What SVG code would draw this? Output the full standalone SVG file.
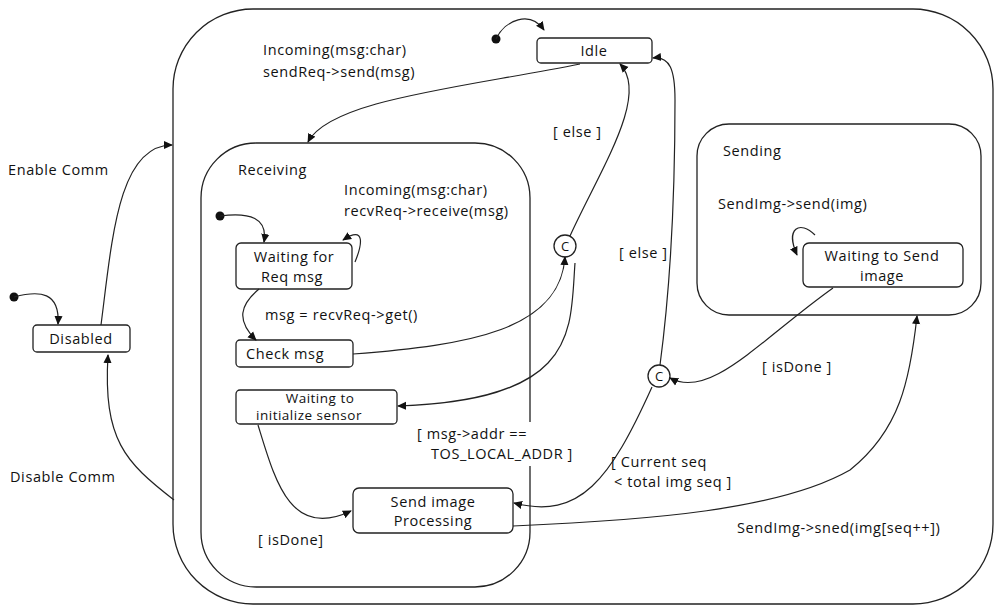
<svg xmlns="http://www.w3.org/2000/svg" width="996" height="608" viewBox="0 0 996 608">
<defs>
<marker id="ah" viewBox="0 0 10 10" refX="9" refY="5" markerWidth="9" markerHeight="9" markerUnits="userSpaceOnUse" orient="auto">
<path d="M0,0.5 L10,5 L0,9.5 z" fill="#111"/>
</marker>
<style>
.st{fill:#fff;stroke:#222;stroke-width:1.3}
.cont{fill:none;stroke:#222;stroke-width:1.3}
.c{fill:none;stroke:#222;stroke-width:1.2;marker-end:url(#ah)}
text{font-family:"Open Sans","Noto Sans","DejaVu Sans",sans-serif;font-size:14.5px;letter-spacing:0.6px;fill:#111}
.m{text-anchor:middle}
.sm{font-size:13.5px;letter-spacing:0.5px}
</style>
</defs>
<rect width="996" height="608" fill="#fff"/>
<g id="outer"><rect class="cont" x="173" y="9" width="820" height="595" rx="80" ry="80"/></g>
<g id="receiving"><rect class="cont" x="201" y="143" width="329" height="444" rx="55" ry="55"/><text x="238" y="175">Receiving</text></g>
<g id="sending"><rect class="cont" x="697" y="124" width="284" height="191" rx="32" ry="32"/><text x="723" y="156">Sending</text></g>

<g id="idle"><rect class="st" x="537" y="38" width="115" height="25" rx="4"/><text class="m" x="594" y="56">Idle</text></g>
<g id="disabled"><rect class="st" x="33" y="325" width="97" height="27" rx="4"/><text class="m" x="81" y="344">Disabled</text></g>
<g id="waitreq"><rect class="st" x="236" y="243" width="116" height="46" rx="5"/><text class="m" x="294" y="262">Waiting for</text><text class="m" x="292" y="282">Req msg</text></g>
<g id="checkmsg"><rect class="st" x="236" y="340" width="117" height="27" rx="4"/><text x="246" y="359">Check msg</text></g>
<g id="waitinit"><rect class="st" x="236" y="390" width="161" height="34" rx="4"/><text class="m sm" x="320" y="403">Waiting to</text><text class="m sm" x="309" y="420">initialize sensor</text></g>
<g id="sendproc"><rect class="st" x="353" y="488" width="160" height="45" rx="6"/><text class="m" x="433" y="507">Send image</text><text class="m" x="433" y="526">Processing</text></g>
<g id="waitsend"><rect class="st" x="803" y="243" width="160" height="44" rx="6"/><text class="m" x="882" y="261">Waiting to Send</text><text class="m" x="882" y="281">image</text></g>
<g id="choice1"><circle class="st" cx="565" cy="246" r="11"/><text class="m" x="565" y="251" style="font-size:13px;letter-spacing:0">C</text></g>
<g id="choice2"><circle class="st" cx="659" cy="376" r="11"/><text class="m" x="659" y="381" style="font-size:13px;letter-spacing:0">C</text></g>
<g id="initials" fill="#111">
<circle cx="496" cy="39" r="4.5"/><circle cx="14" cy="297" r="4.5"/><circle cx="220" cy="216" r="4.5"/>
</g>

<g id="connectors">
<path class="c" d="M496,39 C505,20 530,10 544,30"/>
<path class="c" d="M14,297 C40,290 60,292 58,324"/>
<path class="c" d="M220,216 C250,212 268,218 264,242"/>
<path class="c" d="M580,64 C460,88 330,100 308,142"/>
<path class="c" d="M101,325 C112,240 118,145 172,145"/>
<path class="c" d="M174,500 C125,462 103,440 108,355"/>
<path class="c" d="M355,262 C362,245 366,225 343,240"/>
<path class="c" d="M259,289 C240,305 236,320 256,340"/>
<path class="c" d="M353,354 C470,345 560,330 565,257"/>
<path class="c" d="M575,263 C570,330 580,400 398,406"/>
<path class="c" d="M570,236 C600,170 650,95 620,64"/>
<path class="c" d="M660,365 C670,290 675,200 675,100 C675,70 670,56 653,58"/>
<path class="c" d="M833,288 C760,340 710,400 670,378"/>
<path class="c" d="M652,387 C610,480 580,520 514,503"/>
<path class="c" d="M513,526 C650,520 780,510 850,470 C900,430 910,380 917,316"/>
<path class="c" d="M258,425 C275,480 290,540 351,511"/>
<path class="c" d="M815,235 C800,220 785,228 797,255"/>
</g>

<g id="labels">
<text x="263" y="55">Incoming(msg:char)</text>
<text x="263" y="77">sendReq-&gt;send(msg)</text>
<text x="8" y="175">Enable Comm</text>
<text x="10" y="482">Disable Comm</text>
<text x="344" y="195">Incoming(msg:char)</text>
<text x="344" y="216">recvReq-&gt;receive(msg)</text>
<text x="265" y="320">msg = recvReq-&gt;get()</text>
<text x="553" y="137">[ else ]</text>
<text x="619" y="258">[ else ]</text>
<text x="718" y="209">SendImg-&gt;send(img)</text>
<text x="762" y="372">[ isDone ]</text>
<rect x="412" y="422" width="170" height="44" fill="#fff"/>
<text x="417" y="439">[ msg-&gt;addr ==</text>
<text x="431" y="459">TOS_LOCAL_ADDR ]</text>
<text x="611" y="467">[ Current seq</text>
<text x="614" y="487">&lt; total img seq ]</text>
<text x="737" y="533">SendImg-&gt;sned(img[seq++])</text>
<text x="258" y="545">[ isDone]</text>
</g>
</svg>
